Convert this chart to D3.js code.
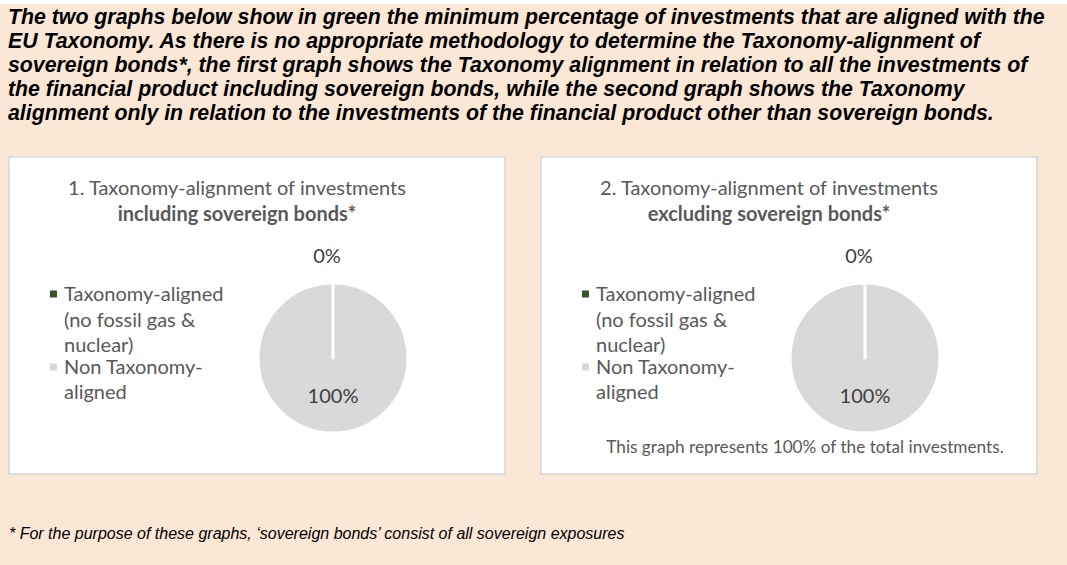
<!DOCTYPE html>
<html>
<head>
<meta charset="utf-8">
<script src="https://cdn.jsdelivr.net/npm/d3@7/dist/d3.min.js"></script>
<style>
  html, body { margin: 0; padding: 0; background: #ffffff; }
  svg { display: block; }
</style>
</head>
<body>
<svg id="chart" width="1067" height="565"></svg>
<script>
// ---- content -------------------------------------------------------------
const introLines = [
  "The two graphs below show in green the minimum percentage of investments that are aligned with the",
  "EU Taxonomy. As there is no appropriate methodology to determine the Taxonomy-alignment of",
  "sovereign bonds*, the first graph shows the Taxonomy alignment in relation to all the investments of",
  "the financial product including sovereign bonds, while the second graph shows the Taxonomy",
  "alignment only in relation to the investments of the financial product other than sovereign bonds."
];
const footnote = "* For the purpose of these graphs, \u2018sovereign bonds\u2019 consist of all sovereign exposures";

const categories = ["Taxonomy-aligned (no fossil gas & nuclear)", "Non Taxonomy-aligned"];
const legendLines = [
  ["Taxonomy-aligned", "(no fossil gas &", "nuclear)"],
  ["Non Taxonomy-", "aligned"]
];
const sliceColors = ["#375623", "#d9d9d9"];

const chartTitlesLight = ["1. Taxonomy-alignment of investments", "2. Taxonomy-alignment of investments"];
const chartTitlesBold = ["including sovereign bonds*", "excluding sovereign bonds*"];
const valuesIncludingSovereign = [0, 100];
const valuesExcludingSovereign = [0, 100];
const panelNotes = ["", "This graph represents 100% of the total investments."];

// ---- layout --------------------------------------------------------------
const W = 1067, H = 565;
const peach = "#fbe7d5";
const textGray = "#595959";
const chartFont = "Lato, 'Open Sans', sans-serif";

const svg = d3.select("#chart");

svg.append("rect").attr("width", W).attr("height", H).attr("fill", peach);
svg.append("rect").attr("width", W).attr("height", 4).attr("fill", "#ffffff");

// intro paragraph
svg.append("g")
  .selectAll("text")
  .data(introLines)
  .join("text")
  .attr("x", 8)
  .attr("y", (d, i) => 24 + i * 24)
  .attr("font-family", "'Liberation Sans', Arial, sans-serif")
  .attr("font-size", 21.3)
  .attr("font-weight", "bold")
  .attr("font-style", "italic")
  .attr("fill", "#000")
  .text(d => d);

// footnote
svg.append("text")
  .attr("x", 9)
  .attr("y", 539)
  .attr("font-family", "'Liberation Sans', Arial, sans-serif")
  .attr("font-size", 16)
  .attr("font-style", "italic")
  .attr("fill", "#000")
  .text(footnote);

// ---- pie panels ----------------------------------------------------------
const panels = [
  { x: 9,   values: valuesIncludingSovereign, idx: 0 },
  { x: 541, values: valuesExcludingSovereign, idx: 1 }
];
const panelW = 496, panelH = 317, panelY = 157;
const radius = 75;

const pie = d3.pie().sort(null).value(d => d);
const arc = d3.arc().innerRadius(0).outerRadius(radius);
const fmt = d3.format(".0%");

panels.forEach(p => {
  const g = svg.append("g").attr("transform", `translate(${p.x},${panelY})`);

  g.append("rect")
    .attr("width", panelW).attr("height", panelH)
    .attr("fill", "#ffffff")
    .attr("stroke", "#d6d8db")
    .attr("stroke-width", 1.5);

  // title
  const title = g.append("text")
    .attr("text-anchor", "middle")
    .attr("font-family", chartFont)
    .attr("font-size", 20)
    .attr("fill", textGray);
  title.append("tspan").attr("x", 228).attr("y", 38).text(chartTitlesLight[p.idx]);
  title.append("tspan").attr("x", 228).attr("y", 64)
    .attr("font-weight", "bold").text(chartTitlesBold[p.idx]);

  // legend
  const lg = g.append("g").attr("font-family", chartFont).attr("font-size", 20).attr("fill", textGray);
  const itemTop = [137, 210];
  const lineStep = [25.5, 25];
  categories.forEach((c, ci) => {
    lg.append("rect")
      .attr("x", 41).attr("y", itemTop[ci] - 3.5)
      .attr("width", 7).attr("height", 7)
      .attr("fill", sliceColors[ci]);
    lg.append("text")
      .selectAll("tspan")
      .data(legendLines[ci])
      .join("tspan")
      .attr("x", 55)
      .attr("y", (d, li) => itemTop[ci] + 7 + li * lineStep[ci])
      .text(d => d);
  });

  // pie
  const cx = 324, cy = 201;
  const pg = g.append("g").attr("transform", `translate(${cx},${cy})`);
  const slices = pie(p.values).map((d, i) => ({ ...d, color: sliceColors[i] }));

  pg.selectAll("path")
    .data(slices.slice().reverse())
    .join("path")
    .attr("d", arc)
    .attr("fill", d => d.color)
    .attr("stroke", "#ffffff")
    .attr("stroke-width", 3)
    .attr("stroke-linejoin", "round");

  // data labels: zero slice outside the rim, others at the centroid
  pg.selectAll("text")
    .data(slices)
    .join("text")
    .attr("transform", d => {
      if (d.value === 0) {
        const a = (d.startAngle + d.endAngle) / 2;
        const rr = radius + 27;
        return `translate(${Math.sin(a) * rr - 6},${-Math.cos(a) * rr})`;
      }
      const [x, y] = arc.centroid(d);
      return `translate(${x},${y})`;
    })
    .attr("text-anchor", "middle")
    .attr("dy", "0.35em")
    .attr("font-family", chartFont)
    .attr("font-size", 20)
    .attr("fill", "#404040")
    .text(d => fmt(d.value / d3.sum(p.values)));

  if (panelNotes[p.idx]) {
    g.append("text")
      .attr("x", 264)
      .attr("y", 296)
      .attr("text-anchor", "middle")
      .attr("font-family", chartFont)
      .attr("font-size", 17.2)
      .attr("fill", textGray)
      .text(panelNotes[p.idx]);
  }
});
</script>
</body>
</html>
